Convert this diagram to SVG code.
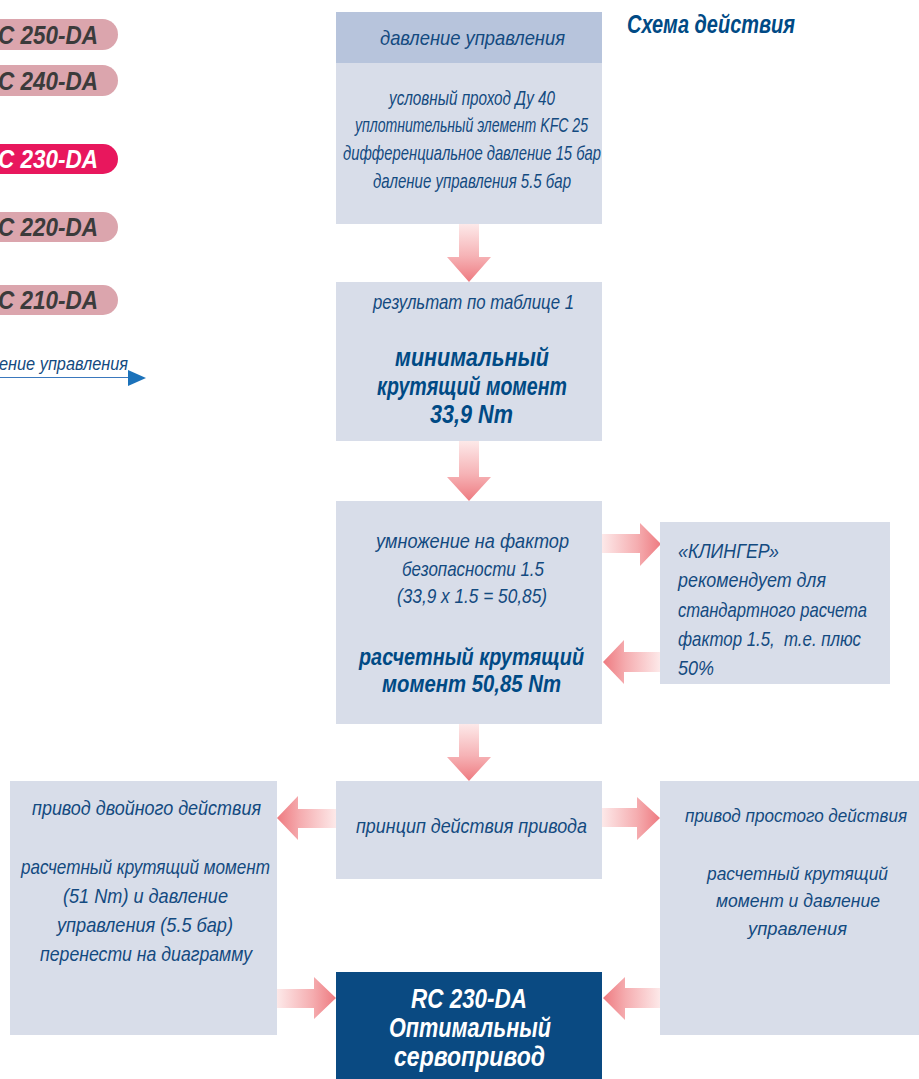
<svg xmlns="http://www.w3.org/2000/svg" width="919" height="1079" viewBox="0 0 919 1079">
<defs>
<linearGradient id="gD" x1="0" y1="0" x2="0" y2="1"><stop offset="0" stop-color="#fde9e9"/><stop offset="0.55" stop-color="#f6b3b6"/><stop offset="1" stop-color="#ee7a80"/></linearGradient>
<linearGradient id="gR" x1="0" y1="0" x2="1" y2="0"><stop offset="0" stop-color="#fde9e9"/><stop offset="0.6" stop-color="#f5adb0"/><stop offset="1" stop-color="#ee7a80"/></linearGradient>
<linearGradient id="gL" x1="1" y1="0" x2="0" y2="0"><stop offset="0" stop-color="#fde9e9"/><stop offset="0.6" stop-color="#f5adb0"/><stop offset="1" stop-color="#ee7a80"/></linearGradient>
<style>
.box{fill:#d8dde9}
.hdr{fill:#b7c4dc}
.dark{fill:#0a4a82}
.t{font-family:"Liberation Sans",Arial,sans-serif;font-style:italic;font-size:21px;fill:#134a80}
.t1{font-size:21px}
.ts{font-size:19px}
.tx{font-size:17.5px}
.c{text-anchor:middle}
.b{font-family:"Liberation Sans",Arial,sans-serif;font-style:italic;font-weight:bold;font-size:26px;fill:#004a85}
.bs{font-size:24px}
.w{fill:#ffffff;font-size:27px}
.pill{fill:#dba5ad}
.pillOn{fill:#e8175d}
.pt{font-family:"Liberation Sans",Arial,sans-serif;font-style:italic;font-weight:bold;font-size:26px;fill:#3b3b3b;text-anchor:end}
.ptOn{fill:#ffffff}
</style>
</defs>

<g id="pills">
<g id="pill-250"><rect class="pill" x="-30" y="19" width="148" height="31" rx="15.5"/><text class="pt" x="98" y="43.5" textLength="100" lengthAdjust="spacingAndGlyphs">C 250-DA</text></g>
<g id="pill-240"><rect class="pill" x="-30" y="65" width="148" height="31" rx="15.5"/><text class="pt" x="98" y="89.5" textLength="100" lengthAdjust="spacingAndGlyphs">C 240-DA</text></g>
<g id="pill-230"><rect class="pillOn" x="-30" y="144" width="148" height="30" rx="15"/><text class="pt ptOn" x="98" y="168" textLength="100" lengthAdjust="spacingAndGlyphs">C 230-DA</text></g>
<g id="pill-220"><rect class="pill" x="-30" y="212" width="148" height="30" rx="15"/><text class="pt" x="98" y="236" textLength="100" lengthAdjust="spacingAndGlyphs">C 220-DA</text></g>
<g id="pill-210"><rect class="pill" x="-30" y="285" width="148" height="30" rx="15"/><text class="pt" x="98" y="309" textLength="100" lengthAdjust="spacingAndGlyphs">C 210-DA</text></g>
</g>

<g id="legend-axis">
<text class="t" x="-1" y="370" textLength="129" lengthAdjust="spacingAndGlyphs" style="font-size:18px">ение управления</text>
<line x1="0" y1="377.5" x2="130" y2="377.5" stroke="#3a78bd" stroke-width="1.2"/>
<polygon points="128,370 146,378 128,386" fill="#1c72ba"/>
</g>

<g id="title">
<text class="b" x="627" y="33" style="font-size:25px" textLength="168" lengthAdjust="spacingAndGlyphs">Схема действия</text>
</g>

<g id="connectors">
<polygon fill="url(#gD)" points="459,224 479,224 479,257 491,257 469,282 447,257 459,257"/>
<polygon fill="url(#gD)" points="459,441 479,441 479,477 491,477 469,501 447,477 459,477"/>
<polygon fill="url(#gD)" points="459,724 479,724 479,757 491,757 469,781 447,757 459,757"/>
<polygon fill="url(#gR)" points="602,534 640,534 640,523 661,544 640,566 640,553 602,553"/>
<polygon fill="url(#gL)" points="660,652 624,652 624,640 603,662 624,684 624,672 660,672"/>
<polygon fill="url(#gL)" points="336,809 298,809 298,796 277,818 298,840 298,828 336,828"/>
<polygon fill="url(#gR)" points="602,808 637,808 637,797 660,818 637,840 637,827 602,827"/>
<polygon fill="url(#gR)" points="277,989 314,989 314,977 336,998 314,1019 314,1008 277,1008"/>
<polygon fill="url(#gL)" points="660,988 625,988 625,977 603,998 625,1020 625,1008 660,1008"/>
</g>

<g id="node-input">
<rect class="hdr" x="336" y="12" width="266" height="51"/>
<rect class="box" x="336" y="63" width="266" height="161"/>
<text class="t c" x="472.5" y="45" textLength="185" lengthAdjust="spacingAndGlyphs">давление управления</text>
<text class="t t1 c" x="472" y="105" textLength="166" lengthAdjust="spacingAndGlyphs">условный проход Ду 40</text>
<text class="t t1 c" x="471.5" y="132" textLength="233" lengthAdjust="spacingAndGlyphs">уплотнительный элемент KFC 25</text>
<text class="t t1 c" x="472" y="160" textLength="258" lengthAdjust="spacingAndGlyphs">дифференциальное давление 15 бар</text>
<text class="t t1 c" x="472" y="188" textLength="198" lengthAdjust="spacingAndGlyphs">даление управления 5.5 бар</text>
</g>

<g id="node-result">
<rect class="box" x="336" y="282" width="266" height="159"/>
<text class="t c" x="473.5" y="309" textLength="201" lengthAdjust="spacingAndGlyphs">результат по таблице 1</text>
<text class="b c" x="472" y="366" textLength="154" lengthAdjust="spacingAndGlyphs">минимальный</text>
<text class="b c" x="472" y="395" textLength="190" lengthAdjust="spacingAndGlyphs">крутящий момент</text>
<text class="b c" x="471.5" y="423" textLength="83" lengthAdjust="spacingAndGlyphs">33,9 Nm</text>
</g>

<g id="node-factor">
<rect class="box" x="336" y="501" width="266" height="223"/>
<text class="t c" x="472.5" y="548" textLength="193" lengthAdjust="spacingAndGlyphs">умножение на фактор</text>
<text class="t c" x="473" y="576" textLength="142" lengthAdjust="spacingAndGlyphs">безопасности 1.5</text>
<text class="t c" x="472" y="603" textLength="150" lengthAdjust="spacingAndGlyphs">(33,9 x 1.5 = 50,85)</text>
<text class="b bs c" x="471.5" y="665" textLength="225" lengthAdjust="spacingAndGlyphs">расчетный крутящий</text>
<text class="b bs c" x="471.5" y="692" textLength="179" lengthAdjust="spacingAndGlyphs">момент 50,85 Nm</text>
</g>

<g id="node-klinger">
<rect class="box" x="660" y="522" width="230" height="162"/>
<text class="t" x="678" y="558" textLength="101" lengthAdjust="spacingAndGlyphs">«КЛИНГЕР»</text>
<text class="t" x="678" y="587" textLength="148" lengthAdjust="spacingAndGlyphs">рекомендует для</text>
<text class="t" x="678" y="617" textLength="189" lengthAdjust="spacingAndGlyphs">стандартного расчета</text>
<text class="t" x="678" y="646" textLength="183" lengthAdjust="spacingAndGlyphs" style="white-space:pre">фактор 1.5,  т.е. плюс</text>
<text class="t" x="678" y="675" textLength="36" lengthAdjust="spacingAndGlyphs">50%</text>
</g>

<g id="node-principle">
<rect class="box" x="336" y="781" width="266" height="98"/>
<text class="t c" x="471.5" y="833" textLength="231" lengthAdjust="spacingAndGlyphs">принцип действия привода</text>
</g>

<g id="node-double">
<rect class="box" x="10" y="781" width="267" height="254"/>
<text class="t c" x="146.5" y="815" textLength="229" lengthAdjust="spacingAndGlyphs">привод двойного действия</text>
<text class="t c" x="145.5" y="874" textLength="249" lengthAdjust="spacingAndGlyphs">расчетный крутящий момент</text>
<text class="t c" x="145.5" y="903" textLength="165" lengthAdjust="spacingAndGlyphs">(51 Nm) и давление</text>
<text class="t c" x="145" y="932" textLength="176" lengthAdjust="spacingAndGlyphs">управления (5.5 бар)</text>
<text class="t c" x="146" y="961" textLength="212" lengthAdjust="spacingAndGlyphs">перенести на диаграмму</text>
</g>

<g id="node-single">
<rect class="box" x="660" y="781" width="259" height="254"/>
<text class="t tx c" x="796" y="822" textLength="222" lengthAdjust="spacingAndGlyphs">привод простого действия</text>
<text class="t ts c" x="797.5" y="880" textLength="181" lengthAdjust="spacingAndGlyphs">расчетный крутящий</text>
<text class="t ts c" x="798" y="907" textLength="164" lengthAdjust="spacingAndGlyphs">момент и давление</text>
<text class="t ts c" x="797.5" y="935" textLength="99" lengthAdjust="spacingAndGlyphs">управления</text>
</g>

<g id="node-optimal">
<rect class="dark" x="336" y="972" width="266" height="107"/>
<text class="b w c" x="469" y="1008" textLength="116" lengthAdjust="spacingAndGlyphs">RC 230-DA</text>
<text class="b w c" x="470" y="1037" textLength="162" lengthAdjust="spacingAndGlyphs">Оптимальный</text>
<text class="b w c" x="469.5" y="1066" textLength="151" lengthAdjust="spacingAndGlyphs">сервопривод</text>
</g>
</svg>
